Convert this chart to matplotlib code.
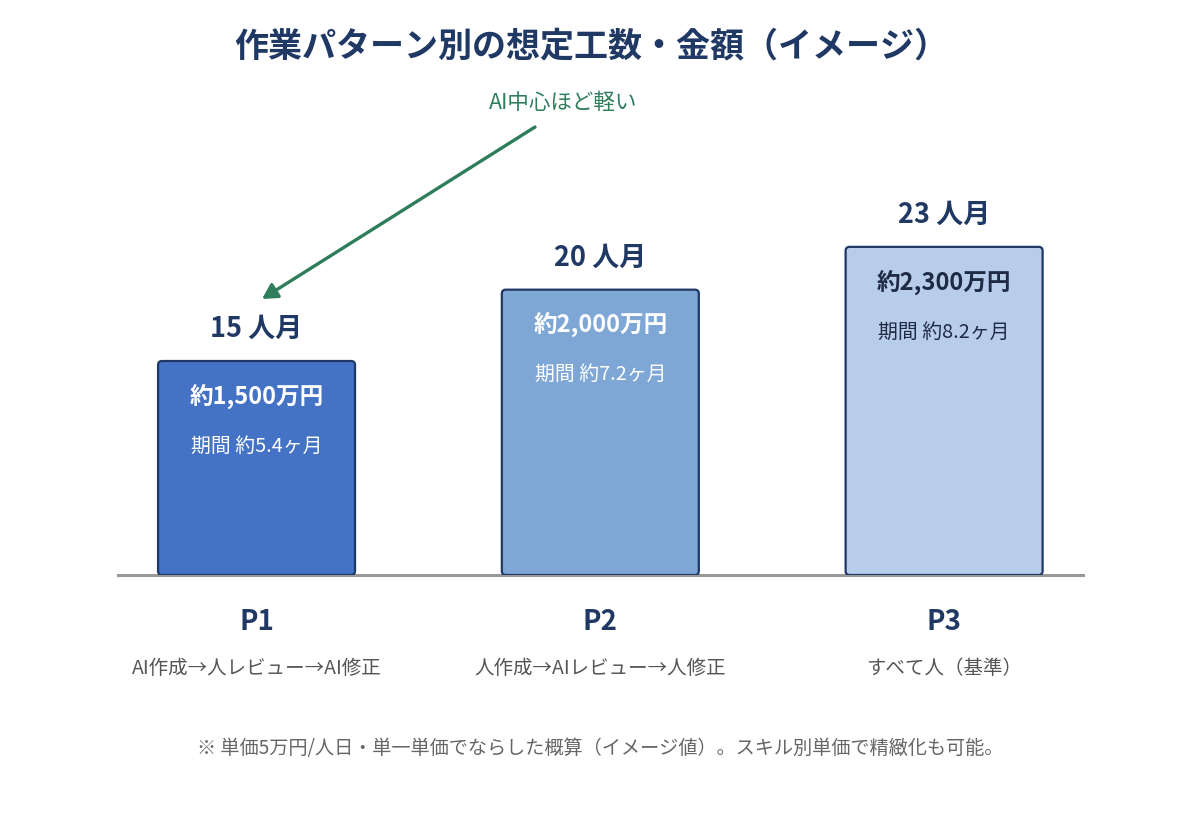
import matplotlib
matplotlib.use("Agg")
import matplotlib.pyplot as plt
from matplotlib.patches import FancyBboxPatch

plt.rcParams['font.family'] = ['Noto Sans CJK JP', 'DejaVu Sans']

patterns = ["P1", "P2", "P3"]
descriptions = ["AI作成→人レビュー→AI修正", "人作成→AIレビュー→人修正", "すべて人（基準）"]
man_months = [15, 20, 23]
cost_labels = ["約1,500万円", "約2,000万円", "約2,300万円"]
period_labels = ["期間 約5.4ヶ月", "期間 約7.2ヶ月", "期間 約8.2ヶ月"]
bar_colors = ["#4472C4", "#7EA7D6", "#B8CDE9"]
inner_text_colors = ["white", "white", "#1F2A44"]
title = "作業パターン別の想定工数・金額（イメージ）"
annotation = "AI中心ほど軽い"
footnote = "※ 単価5万円/人日・単一単価でならした概算（イメージ値）。スキル別単価で精緻化も可能。"

W, H = 1200, 813
fig = plt.figure(figsize=(12, 8.13), dpi=100)
fig.patch.set_facecolor("white")

# axes: x from 118 to 1083 px, y=0 at 575 px
ax = fig.add_axes([118 / W, (H - 575) / H, 965 / W, 428 / H])
ax.set_xlim(-0.403, 2.404)
ax.set_ylim(0, 30)
ax.axis("off")

navy = "#1F3864"
bw = 0.573
rx = 4 / 343.75
ry = 4 / 14.27
for i, (v, c) in enumerate(zip(man_months, bar_colors)):
    p = FancyBboxPatch((i - bw / 2, 0), bw, v,
                       boxstyle=f"round,pad=0,rounding_size={rx}",
                       mutation_aspect=ry / rx,
                       facecolor=c, edgecolor=navy, linewidth=1.6, zorder=3)
    ax.add_patch(p)
    ax.annotate(f"{v} 人月", xy=(i, v), xytext=(0, 32), textcoords="offset pixels",
                ha="center", va="center", fontsize=19.5, fontweight="bold", color=navy)
    ax.annotate(cost_labels[i], xy=(i, v), xytext=(0, -35), textcoords="offset pixels",
                ha="center", va="center", fontsize=17, fontweight="bold",
                color=inner_text_colors[i], zorder=4)
    ax.annotate(period_labels[i], xy=(i, v), xytext=(0, -85), textcoords="offset pixels",
                ha="center", va="center", fontsize=14.3,
                color=inner_text_colors[i], zorder=4)
    ax.annotate(patterns[i], xy=(i, 0), xytext=(0, -47), textcoords="offset pixels",
                ha="center", va="center", fontsize=20, fontweight="bold", color=navy)
    ax.annotate(descriptions[i], xy=(i, 0), xytext=(0, -93), textcoords="offset pixels",
                ha="center", va="center", fontsize=14, color="#555555")

ax.axhline(0, color="#999999", linewidth=2.2, zorder=2, clip_on=False)

fig.text(591 / W, (H - 46) / H, title, ha="center", va="center",
         fontsize=24.5, fontweight="bold", color=navy)

green = "#2E7D5B"
fig.text(563 / W, (H - 103) / H, annotation, ha="center", va="center",
         fontsize=15.5, color=green)
fig.add_artist(matplotlib.patches.FancyArrowPatch(
    posA=(535 / W, (H - 127) / H), posB=(262 / W, (H - 299) / H),
    transform=fig.transFigure, arrowstyle="-|>,head_length=9,head_width=5",
    color=green, linewidth=2.4, shrinkA=0, shrinkB=0))

fig.text(600 / W, (H - 748) / H, footnote, ha="center", va="center",
         fontsize=13.8, color="#666666")

fig.savefig("out.png", dpi=100, facecolor="white")
